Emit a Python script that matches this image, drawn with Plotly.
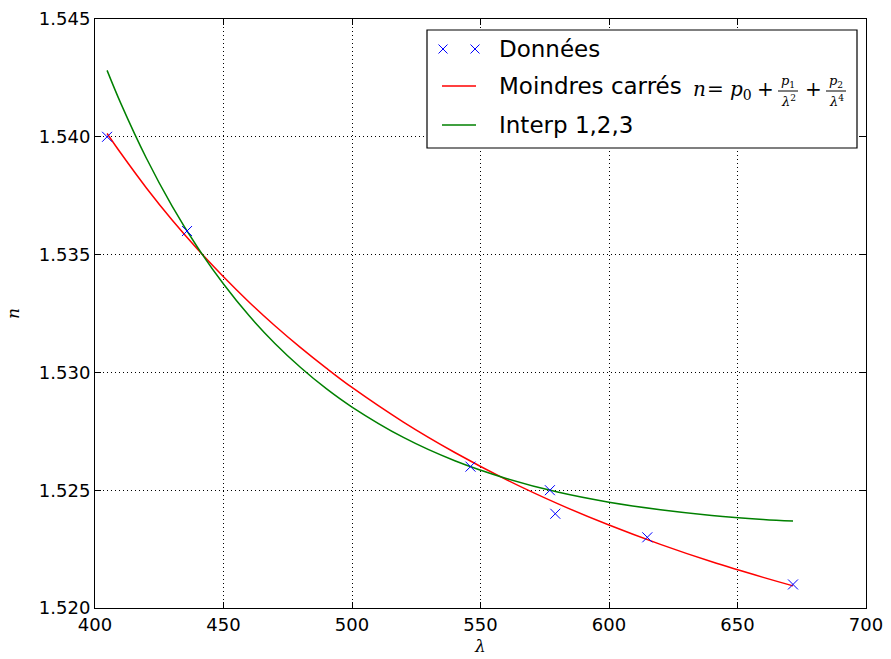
import plotly.graph_objects as go

# ---- data ----
lam_data = [404.7, 435.8, 546.1, 577.0, 579.1, 614.9, 671.6]
n_data = [1.540, 1.536, 1.526, 1.525, 1.524, 1.523, 1.521]

lam_curve = [404.7, 410, 420, 430, 440, 450, 460, 470, 480, 490, 500,
             520, 540, 560, 580, 600, 620, 640, 660, 671.6]
n_lsq = [1.54014, 1.53931, 1.53783, 1.53647, 1.53522, 1.53406, 1.53298,
         1.53198, 1.53105, 1.53018, 1.52936, 1.52789, 1.52660, 1.52545,
         1.52443, 1.52352, 1.52270, 1.52196, 1.52130, 1.52094]
n_interp = [1.54282, 1.54143, 1.53909, 1.53706, 1.53529, 1.53375, 1.53240,
            1.53123, 1.53021, 1.52931, 1.52853, 1.52724, 1.52625, 1.52550,
            1.52492, 1.52449, 1.52417, 1.52393, 1.52376, 1.52369]

x_ticks = [400, 450, 500, 550, 600, 650, 700]
y_ticks = [1.520, 1.525, 1.530, 1.535, 1.540, 1.545]

W, H = 891, 659
ML, MR, MT, MB = 95, 25, 19, 51
PW, PH = W - ML - MR, H - MT - MB


def px(x):
    return (x - ML) / PW


def py(y):
    return (H - MB - y) / PH


fig = go.Figure()
fig.add_trace(go.Scatter(x=lam_curve, y=n_lsq, mode="lines", line=dict(color="#ff0000", width=1.5),
                         line_shape="spline", showlegend=False))
fig.add_trace(go.Scatter(x=lam_curve, y=n_interp, mode="lines", line=dict(color="#008000", width=1.5),
                         line_shape="spline", showlegend=False))
fig.add_trace(go.Scatter(x=lam_data, y=n_data, mode="markers",
                         marker=dict(symbol="x-thin", size=10, line=dict(color="#0000ff", width=1)),
                         showlegend=False, cliponaxis=False))

axis_common = dict(showline=True, linecolor="black", linewidth=1, mirror="ticks",
                   ticks="inside", ticklen=6, tickcolor="black", tickwidth=1,
                   showgrid=True, gridcolor="black", gridwidth=1, griddash="1px,3px",
                   zeroline=False, automargin=False,
                   tickfont=dict(family="DejaVu Sans", size=18, color="black"))

fig.update_xaxes(range=[400, 700], tickvals=x_ticks, ticktext=[str(v) for v in x_ticks],
                 title=dict(text="<i>λ</i>", font=dict(family="DejaVu Serif", size=17, color="black"), standoff=6),
                 **axis_common)
fig.update_yaxes(range=[1.520, 1.545], tickvals=y_ticks, ticktext=[f"{v:.3f}" for v in y_ticks],
                 title=dict(text="<i>n</i>", font=dict(family="DejaVu Serif", size=17, color="black"), standoff=14),
                 **axis_common)

# ---- custom legend ----
shapes = []
annots = []
shapes.append(dict(type="rect", xref="paper", yref="paper", x0=px(427), x1=px(857), y0=py(30), y1=py(148),
                   line=dict(color="black", width=1.2), fillcolor="white", layer="above"))


def xmark(cx, cy, s=4.5):
    for (a, b) in [((-s, -s), (s, s)), ((-s, s), (s, -s))]:
        shapes.append(dict(type="line", xref="paper", yref="paper",
                           x0=px(cx + a[0]), y0=py(cy + a[1]), x1=px(cx + b[0]), y1=py(cy + b[1]),
                           line=dict(color="#0000ff", width=1), layer="above"))


xmark(443, 49)
xmark(475, 49)
shapes.append(dict(type="line", xref="paper", yref="paper", x0=px(442), x1=px(476), y0=py(86), y1=py(86),
                   line=dict(color="#ff0000", width=1.5), layer="above"))
shapes.append(dict(type="line", xref="paper", yref="paper", x0=px(442), x1=px(476), y0=py(125), y1=py(125),
                   line=dict(color="#008000", width=1.5), layer="above"))


def txt(s, x, y, size=23, family="DejaVu Sans", xanchor="left"):
    annots.append(dict(text=s, xref="paper", yref="paper", x=px(x), y=py(y), xanchor=xanchor, yanchor="middle",
                       showarrow=False, font=dict(family=family, size=size, color="black")))


txt("Données", 497, 49)
txt("Moindres carrés", 497, 86)
txt("Interp 1,2,3", 497, 125)

serif = "DejaVu Serif"
txt("<i>n</i>", 691, 89, size=20, family=serif)
txt("=", 715, 89, size=20, family=serif, xanchor="center")
txt("<i>p</i><sub>0</sub>", 728, 90, size=20, family=serif)
txt("+", 765, 89, size=20, family=serif, xanchor="center")
txt("<i>p</i><sub>1</sub>", 788, 81, size=13, family=serif, xanchor="center")
txt("<i>λ</i><sup>2</sup>", 788, 101, size=13, family=serif, xanchor="center")
shapes.append(dict(type="line", xref="paper", yref="paper", x0=px(778), x1=px(798), y0=py(91), y1=py(91),
                   line=dict(color="black", width=1), layer="above"))
txt("+", 813, 89, size=20, family=serif, xanchor="center")
txt("<i>p</i><sub>2</sub>", 836, 81, size=13, family=serif, xanchor="center")
txt("<i>λ</i><sup>4</sup>", 836, 101, size=13, family=serif, xanchor="center")
shapes.append(dict(type="line", xref="paper", yref="paper", x0=px(826), x1=px(846), y0=py(91), y1=py(91),
                   line=dict(color="black", width=1), layer="above"))

fig.update_layout(width=W, height=H, margin=dict(l=ML, r=MR, t=MT, b=MB),
                  paper_bgcolor="white", plot_bgcolor="white", shapes=shapes, annotations=annots,
                  showlegend=False)

fig.write_html("out.html", config={"displayModeBar": False},
               post_script="document.body.style.margin='0';document.body.style.padding='0';")
